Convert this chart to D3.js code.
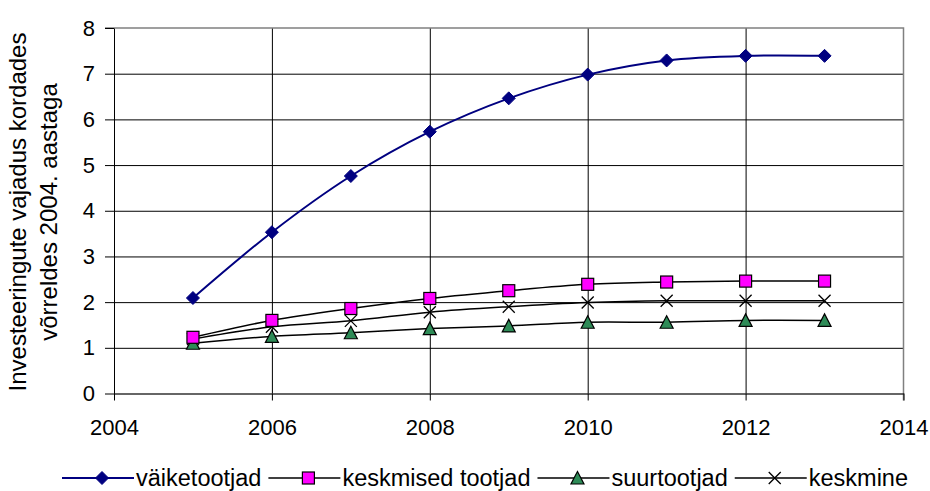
<!DOCTYPE html>
<html>
<head>
<meta charset="utf-8">
<script src="https://cdn.jsdelivr.net/npm/d3@7"></script>
<style>
	body { margin: 0; background: #fff; }
	text { font-family: "Liberation Sans", Arial, sans-serif; fill: #000; }
</style>
</head>
<body>
<div id="graphic"></div>
<script>
// data
const years = [2005, 2006, 2007, 2008, 2009, 2010, 2011, 2012, 2013];
const vaiketootjad = [2.09, 3.53, 4.76, 5.73, 6.46, 6.98, 7.29, 7.39, 7.39];
const keskmisedTootjad = [1.23, 1.60, 1.86, 2.08, 2.25, 2.39, 2.44, 2.46, 2.46];
const suurtootjad = [1.10, 1.25, 1.33, 1.42, 1.48, 1.56, 1.56, 1.60, 1.60];
const keskmine = [1.19, 1.46, 1.59, 1.78, 1.90, 1.99, 2.03, 2.03, 2.03];
const seriesNames = ['väiketootjad', 'keskmised tootjad', 'suurtootjad', 'keskmine'];
const xTicks = [2004, 2006, 2008, 2010, 2012, 2014];
const yTicks = [0, 1, 2, 3, 4, 5, 6, 7, 8];
const yLabelLines = ['Investeeringute vajadus kordades', 'võrreldes 2004. aastaga'];

const width = 930, height = 491;
const margin = { top: 28, right: 26.5, bottom: 97.5, left: 114 };
const chartWidth = width - margin.left - margin.right;
const chartHeight = height - margin.top - margin.bottom;
const tickFont = 22;
const legendFont = 23.5;

const series = [
	{ name: seriesNames[0], values: vaiketootjad, stroke: '#000080', lineWidth: 2, marker: 'diamond', fill: '#000080' },
	{ name: seriesNames[1], values: keskmisedTootjad, stroke: '#000', lineWidth: 1.5, marker: 'square', fill: '#ff00ff' },
	{ name: seriesNames[2], values: suurtootjad, stroke: '#000', lineWidth: 1.5, marker: 'triangle', fill: '#2e8b57' },
	{ name: seriesNames[3], values: keskmine, stroke: '#000', lineWidth: 1.5, marker: 'cross', fill: 'none' }
];

const svgRoot = d3.select('#graphic').append('svg')
	.attr('width', width)
	.attr('height', height);

const svg = svgRoot.append('g')
	.attr('transform', `translate(${margin.left},${margin.top})`);

const x = d3.scaleLinear().domain([2004, 2014]).range([0, chartWidth]);
const y = d3.scaleLinear().domain([0, 8]).range([chartHeight, 0]);

// horizontal grid
svg.append('g')
	.attr('class', 'grid')
	.call(d3.axisLeft(y).tickValues(yTicks.filter(d => d > 0 && d < 8)).tickSize(-chartWidth).tickFormat(''))
	.call(g => g.select('.domain').remove())
	.call(g => g.selectAll('line').attr('stroke', '#000').attr('stroke-width', 1));

// vertical grid
svg.append('g')
	.attr('class', 'grid')
	.attr('transform', `translate(0,${chartHeight})`)
	.call(d3.axisBottom(x).tickValues(xTicks.filter(d => d > 2004 && d < 2014)).tickSize(-chartHeight).tickFormat(''))
	.call(g => g.select('.domain').remove())
	.call(g => g.selectAll('line').attr('stroke', '#000').attr('stroke-width', 1));

// plot border (top and right)
svg.append('path')
	.attr('d', `M${-9},0H${chartWidth}V${chartHeight + 7}`)
	.attr('fill', 'none')
	.attr('stroke', '#808080')
	.attr('stroke-width', 1.5);

// y axis
svg.append('g')
	.attr('class', 'y axis')
	.call(d3.axisLeft(y).tickValues(yTicks).tickSize(9).tickPadding(10).tickSizeOuter(0))
	.call(g => g.select('.domain').attr('stroke', '#000'))
	.call(g => g.selectAll('.tick line').attr('stroke', '#000'))
	.call(g => g.selectAll('.tick text').attr('font-size', tickFont).attr('font-family', null));

// x axis
svg.append('g')
	.attr('class', 'x axis')
	.attr('transform', `translate(0,${chartHeight})`)
	.call(d3.axisBottom(x).tickValues(xTicks).tickSize(7).tickPadding(19).tickSizeOuter(0).tickFormat(d3.format('d')))
	.call(g => g.select('.domain').attr('stroke', '#333').attr('stroke-width', 1.5))
	.call(g => g.selectAll('.tick line').attr('stroke', '#000'))
	.call(g => g.selectAll('.tick text').attr('font-size', tickFont).attr('font-family', null));

// y axis label
const yLabel = svgRoot.append('text')
	.attr('transform', 'translate(0,212) rotate(-90)')
	.attr('text-anchor', 'middle')
	.attr('font-size', 24);
yLabel.selectAll('tspan')
	.data(yLabelLines)
	.join('tspan')
	.attr('x', 0)
	.attr('y', (d, i) => i === 0 ? 26 : 57)
	.text(d => d);

function drawMarker(g, type, fill, cx, cy) {
	if (type === 'diamond') {
		g.append('path')
			.attr('d', 'M0,-6.5L6.5,0L0,6.5L-6.5,0Z')
			.attr('transform', `translate(${cx},${cy})`)
			.attr('fill', fill).attr('stroke', fill).attr('stroke-width', 1);
	} else if (type === 'square') {
		g.append('rect')
			.attr('x', cx - 6).attr('y', cy - 6)
			.attr('width', 12).attr('height', 12)
			.attr('fill', fill).attr('stroke', '#000').attr('stroke-width', 1.2);
	} else if (type === 'triangle') {
		g.append('path')
			.attr('d', 'M0,-6.5L6.5,6L-6.5,6Z')
			.attr('transform', `translate(${cx},${cy})`)
			.attr('fill', fill).attr('stroke', '#000').attr('stroke-width', 1.2);
	} else {
		g.append('path')
			.attr('d', 'M-6,-6L6,6M-6,6L6,-6')
			.attr('transform', `translate(${cx},${cy})`)
			.attr('fill', 'none').attr('stroke', '#000').attr('stroke-width', 1.3);
	}
}

// lines and markers, drawn back to front
const lineGenerator = d3.line()
	.x((d, i) => x(years[i]))
	.y(d => y(d))
	.curve(d3.curveCatmullRom);

[...series].reverse().forEach(s => {
	svg.append('path')
		.datum(s.values)
		.attr('fill', 'none')
		.attr('stroke', s.stroke)
		.attr('stroke-width', s.lineWidth)
		.attr('stroke-linejoin', 'round')
		.attr('d', lineGenerator);
});
[...series].reverse().forEach(s => {
	const g = svg.append('g');
	s.values.forEach((v, i) => drawMarker(g, s.marker, s.fill, x(years[i]), y(v)));
});

// legend, spread between x=62 and x=908
const legend = svgRoot.append('g').attr('class', 'legend');
const legendY = 478;
const symbolLen = 72, markerAt = 40, textGap = 2;
const legendLeft = 62, legendRight = 908;
const items = series.map(s => {
	const item = legend.append('g');
	const t = item.append('text')
		.attr('y', legendY + 8)
		.attr('font-size', legendFont)
		.text(s.name);
	return { s, item, t, w: t.node().getComputedTextLength() };
});
const used = d3.sum(items, d => symbolLen + textGap + d.w);
const itemGap = (legendRight - legendLeft - used) / (items.length - 1);
let legendX = legendLeft;
items.forEach(({ s, item, t, w }) => {
	item.append('line')
		.attr('x1', legendX).attr('x2', legendX + symbolLen)
		.attr('y1', legendY).attr('y2', legendY)
		.attr('stroke', s.stroke).attr('stroke-width', s.lineWidth);
	drawMarker(item, s.marker, s.fill, legendX + markerAt, legendY);
	t.attr('x', legendX + symbolLen + textGap);
	legendX += symbolLen + textGap + w + itemGap;
});
</script>
</body>
</html>
